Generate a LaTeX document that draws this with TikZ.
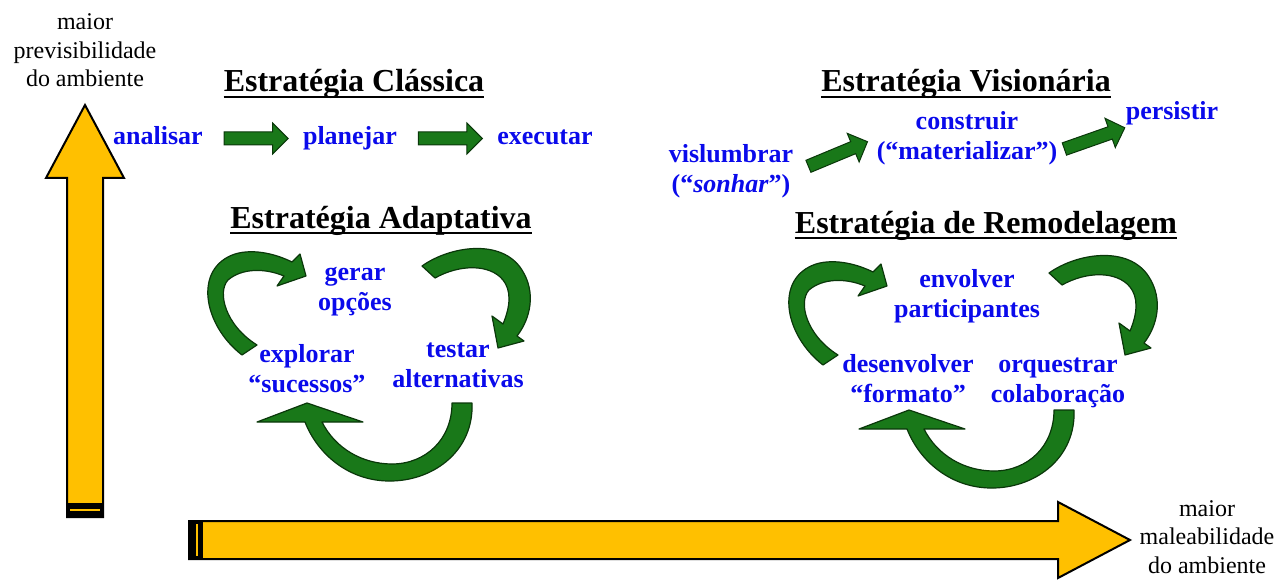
\documentclass[tikz,border=0pt]{standalone}
\usepackage{fontspec}
\setmainfont{Liberation Serif}
\usetikzlibrary{shapes.arrows}

\definecolor{amarelo}{RGB}{255,192,0}
\definecolor{azulrot}{RGB}{10,10,235}
\definecolor{verdeseta}{RGB}{25,120,25}
\definecolor{verdeborda}{RGB}{10,55,10}

\tikzset{
  titulo/.style={font=\fontsize{32}{36}\selectfont\bfseries, anchor=base, inner sep=0pt},
  rotulo/.style={font=\fontsize{26}{30}\selectfont\bfseries, text=azulrot, align=center, anchor=base, inner sep=2pt},
  passo/.style={rotulo, text height=19pt, text depth=6pt},
  eixo texto/.style={font=\fontsize{24}{28.5}\selectfont, align=center, anchor=base, inner sep=0pt},
  seta reta/.style={single arrow, draw=verdeborda, fill=verdeseta, line width=1pt,
    minimum height=64pt, inner xsep=0pt, inner ysep=6pt, single arrow head extend=9pt,
    single arrow tip angle=90, sloped, midway},
  sublinha/.style={line width=2.5pt},
  seta curva/.style={draw=verdeborda, fill=verdeseta, line width=1.2pt, line join=round},
  seta eixo/.style={draw=black, fill=amarelo, line width=2pt},
}

% setas curvas dos ciclos (origem na ponta)
\tikzset{
  volta esq/.pic={
    \draw[seta curva] (-64,79) .. controls (-103,49) and (-113,-8) .. (-71,-22)
      .. controls (-51,-28) and (-28,-21) .. (-14,-14) -- (-6,-22) -- (0,0) -- (-29,10) -- (-22,0)
      .. controls (-41,-8) and (-64,-8) .. (-78,4)
      .. controls (-89,16) and (-81,49) .. (-49,69) -- cycle;
  },
  volta dir/.pic={
    \draw[seta curva] (-76,-82) .. controls (-48,-102) and (4,-110) .. (24,-78)
      .. controls (38,-56) and (33,-30) .. (19,-12) -- (26,-7) -- (0,0) -- (-6,-32) -- (5,-24)
      .. controls (13,-43) and (13,-58) .. (5,-68)
      .. controls (-8,-84) and (-38,-84) .. (-63,-70) -- cycle;
  },
  volta baixo/.pic={
    \draw[seta curva] (165,0) .. controls (167,47) and (128,77) .. (85,78)
      .. controls (43,79) and (11,52) .. (-2,19) -- (-50,19) -- (0,0) -- (56,19) -- (15,19)
      .. controls (28,45) and (55,61) .. (85,61)
      .. controls (118,61) and (145,37) .. (145,0) -- cycle;
  },
}

\begin{document}
\begin{tikzpicture}[x=1pt, y=-1pt]

\useasboundingbox (0,0) rectangle (1284,580);

% eixos

\draw[seta eixo] (67,517) -- (67,178) -- (46,178) -- (85,105) -- (124,178) -- (103,178) -- (103,517) -- cycle;
\fill[black] (66,503) rectangle (104,518);
\draw[amarelo, line width=1.5pt] (70,510) -- (100,510);

\draw[seta eixo] (189,521) -- (1058,521) -- (1058,502) -- (1130,540) -- (1058,578) -- (1058,559) -- (189,559) -- cycle;
\fill[black] (188,520) rectangle (203,560);
\draw[amarelo, line width=1.5pt] (197,524) -- (197,556);

\node[eixo texto] (prev) at (85,87) {maior\\previsibilidade\\do ambiente};
\node[eixo texto] (male) at (1207,573) {maior\\maleabilidade\\do ambiente};

% titulos

\node[titulo] (classica) at (354,92) {Estratégia Clássica};
\node[titulo] (visionaria) at (966,92) {Estratégia Visionária};
\node[titulo] (adaptativa) at (381,228) {Estratégia Adaptativa};
\node[titulo] (remodelagem) at (986,233) {Estratégia de Remodelagem};

\foreach \t in {classica, visionaria, adaptativa, remodelagem}
  \draw[sublinha] ([yshift=-5pt]\t.base west) -- ([yshift=-5pt]\t.base east);

% estrategia classica

\node[passo] (analisar) at (158,145) {analisar};
\node[passo] (planejar) at (350,145) {planejar};
\node[passo] (executar) at (545,145) {executar};

\path (analisar) -- (planejar) node[seta reta] {};
\path (planejar) -- (executar) node[seta reta] {};

% estrategia visionaria

\node[rotulo] (vislumbrar) at (731,193) {vislumbrar\\(“\textit{sonhar}”)};
\node[rotulo] (construir) at (967,160) {construir\\(“materializar”)};
\node[passo] (persistir) at (1172,120) {persistir};

\path (vislumbrar.east) -- (construir.west) node[seta reta] {};
\path ([yshift=-12pt]construir.east) -- (persistir.south west) node[seta reta] {};

% estrategia adaptativa

\node[rotulo] (gerar) at (355,310) {gerar\\opções};
\node[rotulo] (testar) at (458,387) {testar\\alternativas};
\node[rotulo] (explorar) at (307,392) {explorar\\“sucessos”};

\pic at (306,276) {volta esq};
\pic at (498,348) {volta dir};
\pic at (307,403) {volta baixo};

% estrategia de remodelagem

\node[rotulo] (envolver) at (967,317) {envolver\\participantes};
\node[rotulo] (desenvolver) at (908,402) {desenvolver\\“formato”};
\node[rotulo] (orquestrar) at (1058,402) {orquestrar\\colaboração};

\pic at (887,286) {volta esq};
\pic at (1125,355) {volta dir};
\pic at (909,410) {volta baixo};

\end{tikzpicture}
\end{document}
